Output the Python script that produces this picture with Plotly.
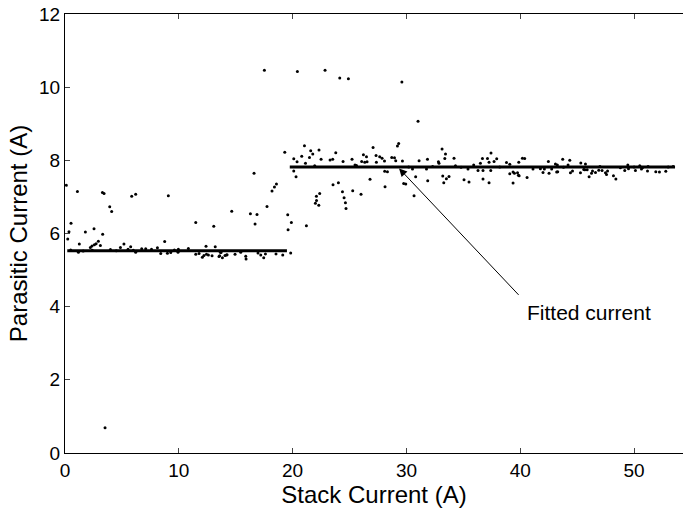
import plotly.graph_objects as go

# Scatter data: stack current (A) vs parasitic current (A)
stack_current = [
    0.12, 1.09, 3.29, 3.43, 5.86, 6.21, 3.93, 4.10, 0.53, 0.35, 0.24, 1.79, 2.55, 3.31, 1.26,
    2.93, 2.73, 2.58, 2.37, 2.23, 3.11, 1.18, 3.99, 4.87, 5.18, 5.54, 5.77, 6.21, 6.74, 7.09,
    3.52, 0.5, 1.6, 2.4, 4.5, 6.0, 7.6,
    8.12, 8.76, 9.08, 10.84, 9.96, 9.61, 8.41, 9.0, 9.29, 9.93, 11.49, 13.07, 11.49, 11.78,
    12.07, 12.21, 12.43, 12.6, 12.92, 12.39, 13.2, 13.53, 13.83, 13.71, 14.06, 14.24, 14.65,
    16.29, 16.87, 16.7, 17.75, 19.57, 19.89, 19.6, 13.65, 13.59, 14.18, 14.94, 15.44, 15.88,
    15.91, 16.96, 17.2, 17.46, 17.61, 18.54, 19.13, 19.83, 16.61, 18.58, 18.40, 18.19, 17.52,
    19.31,
    21.21, 22.0, 22.3, 22.1, 21.04, 21.59, 22.32, 21.77, 20.8, 21.48, 20.1, 20.39, 21.13, 22.5,
    23.29, 23.52, 23.79, 24.43, 25.22, 25.48, 25.61, 21.94, 20.1, 20.30, 23.55, 24.02, 22.38,
    22.09, 24.38, 24.52, 24.64, 24.69, 25.28, 20.42, 22.85, 24.14, 24.9, 26.07, 26.22, 26.49,
    26.54, 26.34, 27.07, 27.33, 27.36, 27.65, 27.86, 28.07, 28.71, 28.95, 29.06, 29.21, 29.32,
    29.65, 26.01, 26.8, 28.09, 28.33, 28.12, 29.76, 29.6,
    31.02, 29.94, 30.67, 30.81, 31.87, 31.11, 31.85, 30.53, 31.76, 33.13, 33.43, 33.37, 32.81,
    32.86, 34.18, 34.31, 33.19, 33.51, 33.74, 33.28, 35.06, 35.5, 35.41, 35.91, 36.29, 36.5,
    36.68, 36.73, 37.12, 37.26, 37.43, 37.7, 37.93, 37.41, 37.26, 36.73, 38.79, 39.08, 39.37,
    39.76, 39.9, 39.37, 39.49, 39.08, 39.87, 40.19, 40.39, 39.84, 40.6,
    41.12, 41.77, 42.0, 42.12, 42.47, 42.53, 42.76, 43.09, 43.26, 43.2, 43.29, 43.73, 44.35,
    44.2, 44.41, 44.59, 45.32, 45.29, 45.58, 45.73, 45.67, 45.88, 46.05, 46.26, 46.61, 46.35,
    46.9, 47.19, 47.49, 47.67, 47.58, 48.19, 48.4,
    48.8, 49.18, 49.45, 49.51, 50.12, 50.5, 50.65, 50.74, 51.23, 51.18, 51.91, 52.23, 52.79,
    53.43, 30.2, 32.3, 34.8, 38.2, 43.8, 47.0, 50.0, 53.0,
]
parasitic_current = [
    7.32, 7.15, 7.12, 7.09, 7.02, 7.07, 6.73, 6.60, 6.28, 6.05, 5.85, 6.04, 6.13, 5.98, 5.71,
    5.79, 5.72, 5.69, 5.66, 5.62, 5.67, 5.49, 5.56, 5.62, 5.71, 5.57, 5.64, 5.49, 5.58, 5.58,
    0.69, 5.55, 5.52, 5.54, 5.53, 5.54, 5.57,
    5.61, 5.78, 7.03, 5.59, 5.57, 5.55, 5.45, 5.46, 5.48, 5.49, 6.30, 6.20, 5.43, 5.45,
    5.35, 5.40, 5.43, 5.41, 5.39, 5.65, 5.64, 5.37, 5.34, 5.48, 5.40, 5.42, 6.61,
    6.54, 6.52, 6.26, 6.74, 6.51, 6.30, 6.10, 5.49, 5.39, 5.41, 5.43, 5.49, 5.38,
    5.30, 5.47, 5.41, 5.34, 5.44, 5.44, 5.41, 5.47, 7.65, 7.35, 7.27, 7.16, 10.46,
    8.22,
    6.21, 6.83, 6.77, 6.90, 8.40, 8.26, 8.28, 8.17, 8.11, 8.08, 8.04, 7.96, 7.92, 8.03,
    8.01, 8.03, 8.21, 7.97, 8.03, 7.87, 7.86, 7.85, 7.71, 7.55, 7.33, 7.39, 7.09,
    7.02, 7.14, 6.98, 6.84, 6.68, 7.17, 10.43, 10.46, 10.25, 10.23, 7.97, 8.15, 8.10,
    7.96, 7.95, 8.35, 8.13, 7.95, 8.10, 8.06, 7.98, 8.08, 8.07, 7.99, 8.39, 8.46,
    7.98, 7.07, 7.48, 7.70, 7.69, 7.28, 7.37, 10.14,
    9.07, 7.35, 7.03, 7.55, 7.44, 7.99, 8.03, 7.76, 7.76, 8.31, 8.17, 8.05, 7.96,
    7.92, 8.06, 7.85, 7.57, 7.50, 7.56, 7.39, 7.47, 7.41, 7.76, 7.87, 7.72, 7.92,
    8.05, 7.72, 8.05, 7.95, 8.20, 7.97, 8.04, 7.72, 7.39, 7.49, 7.94, 7.89, 7.68,
    7.66, 7.58, 7.38, 7.65, 7.63, 7.95, 8.06, 8.05, 7.59, 7.53,
    7.76, 7.77, 7.67, 7.76, 7.97, 7.65, 7.76, 7.90, 7.87, 7.68, 7.69, 8.03, 8.00,
    7.87, 7.66, 7.71, 7.93, 7.66, 7.75, 7.90, 7.74, 7.74, 7.55, 7.65, 7.67, 7.71,
    7.73, 7.72, 7.66, 7.71, 7.61, 7.58, 7.49,
    7.80, 7.72, 7.87, 7.77, 7.72, 7.85, 7.76, 7.80, 7.83, 7.71, 7.69, 7.68, 7.70,
    7.83, 7.82, 7.83, 7.81, 7.82, 7.81, 7.83, 7.82, 7.82,
]

# Fitted current segments
fit1_x = [0.2, 19.5]
fit1_y = [5.53, 5.53]
fit2_x = [19.75, 53.6]
fit2_y = [7.82, 7.82]

x_ticks = [0, 10, 20, 30, 40, 50]
y_ticks = [0, 2, 4, 6, 8, 10, 12]

FONT = "Liberation Sans, Arial, Helvetica, sans-serif"

fig = go.Figure()
fig.add_trace(go.Scatter(x=fit1_x, y=fit1_y, mode="lines",
                         line=dict(color="black", width=3), showlegend=False))
fig.add_trace(go.Scatter(x=fit2_x, y=fit2_y, mode="lines",
                         line=dict(color="black", width=3), showlegend=False))
fig.add_trace(go.Scatter(x=stack_current, y=parasitic_current, mode="markers",
                         marker=dict(color="black", size=3), showlegend=False))

# Arrow pointing at fitted line
fig.add_annotation(x=29.35, y=7.78, xref="x", yref="y", text="",
                   showarrow=True, ax=121, ay=128, arrowhead=2, arrowsize=1.6,
                   arrowwidth=1, arrowcolor="black")
fig.add_annotation(x=46.0, y=3.83, xref="x", yref="y", text="Fitted current",
                   showarrow=False, font=dict(family=FONT, size=21, color="black"))

fig.update_layout(
    width=683, height=512,
    margin=dict(l=65, r=0, t=14, b=59),
    paper_bgcolor="white", plot_bgcolor="white",
    font=dict(family=FONT, size=19, color="black"),
    xaxis=dict(range=[0, 54.3], tickvals=x_ticks, ticks="inside", ticklen=5,
               showline=True, linecolor="black", linewidth=1, mirror="ticks",
               showgrid=False, zeroline=False, automargin=False,
               title=dict(text="Stack Current (A)", font=dict(size=24), standoff=0)),
    yaxis=dict(range=[0, 12], tickvals=y_ticks, ticks="inside", ticklen=5,
               showline=True, linecolor="black", linewidth=1, mirror=False,
               showgrid=False, zeroline=False, automargin=False,
               title=dict(text="Parasitic Current (A)", font=dict(size=24), standoff=4)),
)

fig.write_html("out.html", config={"displayModeBar": False},
               post_script="document.body.style.margin='0';")
